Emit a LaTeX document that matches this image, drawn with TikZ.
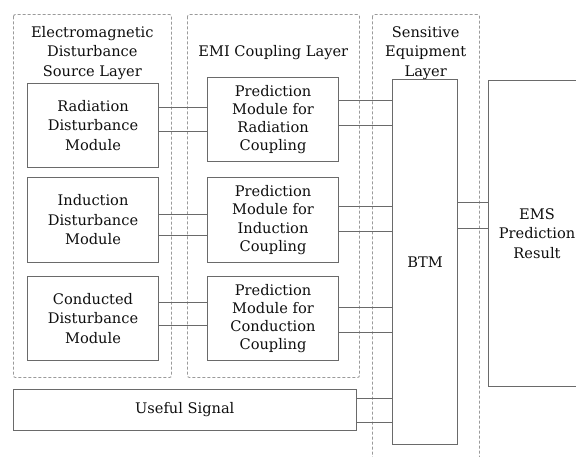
\documentclass[tikz,border=0pt]{standalone}
\usepackage{fontspec}
\setmainfont{DejaVu Serif}
\definecolor{boxgray}{HTML}{6A6A6A}
\definecolor{dashgray}{HTML}{9A9A9A}
\definecolor{ink}{HTML}{0E0E0E}
\tikzset{
  txt/.style={font=\fontsize{14.6}{19.5}\selectfont, text=ink, align=center},
  module/.style={txt, draw=boxgray, line width=1pt, inner sep=0pt,
    minimum width=131.4pt, minimum height=84.4pt},
  predbox/.style={module, font=\fontsize{14.6}{18.2}\selectfont},
  layer/.style={draw=dashgray, line width=0.9pt, dash pattern=on 3pt off 2pt,
    rounded corners=2pt},
  wire/.style={draw=boxgray, line width=1pt}
}
\begin{document}
\begin{tikzpicture}[x=1pt,y=-1pt]
\useasboundingbox (0,0) rectangle (576,457);
\clip (0,0) rectangle (576,457);

% dashed layer frames
\draw[layer] (13.5,14.5) rectangle (171.5,377.5);
\draw[layer] (187.5,14.5) rectangle (359.5,377.5);
\draw[layer] (372.5,14.5) rectangle (479.5,470);

% layer titles
\node[txt] (t1) at (92.3,53) {Electromagnetic\\Disturbance\\Source Layer};
\node[txt] (t2) at (273.3,53) {EMI Coupling Layer};
\node[txt] (t3) at (425.7,53) {Sensitive\\Equipment\\Layer};

% disturbance source modules
\node[module] (rad)  at (93,125.5)   {Radiation\\Disturbance\\Module};
\node[module] (ind)  at (93,220)     {Induction\\Disturbance\\Module};
\node[module] (cond) at (93,318.5)   {Conducted\\Disturbance\\Module};

% coupling prediction modules
\node[predbox] (prad)  at (273,119.5) {Prediction\\Module for\\Radiation\\Coupling};
\node[predbox] (pind)  at (273,220)   {Prediction\\Module for\\Induction\\Coupling};
\node[predbox] (pcond) at (273,318.5) {Prediction\\Module for\\Conduction\\Coupling};

% equipment model and result
\node[txt, draw=boxgray, line width=1pt, inner sep=0pt,
      minimum width=65pt, minimum height=364pt] (btm) at (425,262) {BTM};
\node[txt, draw=boxgray, line width=1pt, inner sep=0pt,
      minimum width=97pt, minimum height=306pt] (ems) at (537,233.5) {EMS\\Prediction\\Result};

% useful signal
\node[txt, draw=boxgray, line width=1pt, inner sep=0pt,
      minimum width=342.5pt, minimum height=41pt] (sig) at (184.75,410) {Useful Signal};

% source -> coupling
\draw[wire] (rad.east |- 0,107.5)  -- (prad.west |- 0,107.5);
\draw[wire] (rad.east |- 0,131.5)  -- (prad.west |- 0,131.5);
\draw[wire] (ind.east |- 0,214.5)  -- (pind.west |- 0,214.5);
\draw[wire] (ind.east |- 0,235.5)  -- (pind.west |- 0,235.5);
\draw[wire] (cond.east |- 0,302.5) -- (pcond.west |- 0,302.5);
\draw[wire] (cond.east |- 0,325.5) -- (pcond.west |- 0,325.5);

% coupling -> BTM
\draw[wire] (prad.east |- 0,100.5)  -- (btm.west |- 0,100.5);
\draw[wire] (prad.east |- 0,125.5)  -- (btm.west |- 0,125.5);
\draw[wire] (pind.east |- 0,206.5)  -- (btm.west |- 0,206.5);
\draw[wire] (pind.east |- 0,231.5)  -- (btm.west |- 0,231.5);
\draw[wire] (pcond.east |- 0,307.5) -- (btm.west |- 0,307.5);
\draw[wire] (pcond.east |- 0,332.5) -- (btm.west |- 0,332.5);
\draw[wire] (sig.east |- 0,398.5)   -- (btm.west |- 0,398.5);
\draw[wire] (sig.east |- 0,422.5)   -- (btm.west |- 0,422.5);

% BTM -> result
\draw[wire] (btm.east |- 0,202.5) -- (ems.west |- 0,202.5);
\draw[wire] (btm.east |- 0,228.5) -- (ems.west |- 0,228.5);
\end{tikzpicture}
\end{document}
